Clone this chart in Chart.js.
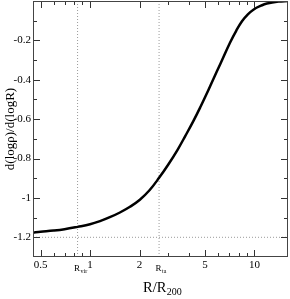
<!DOCTYPE html>
<html>
<head>
<meta charset="utf-8">
<script src="https://cdn.jsdelivr.net/npm/chart.js@4"></script>
<style>
  html, body { margin: 0; padding: 0; background: #fff; }
  #wrap { width: 290px; height: 299px; }
</style>
</head>
<body>
<div id="wrap"><canvas id="chart" width="290" height="299"></canvas></div>
<script>
// radius in units of R200 and the logarithmic density slope
const radius = [0.45, 0.5, 0.6, 0.7, 0.84, 1, 1.15, 1.32, 1.52, 1.75, 2.01, 2.3, 2.63, 3.0, 3.4, 3.8, 4.25, 4.7, 5.13, 5.62, 6.2, 7.1, 7.76, 8.4, 9.12, 9.9, 10.96, 11.9, 14, 16];
const slope = [-1.176, -1.172, -1.166, -1.159, -1.147, -1.134, -1.118, -1.098, -1.074, -1.045, -1.009, -0.961, -0.898, -0.829, -0.757, -0.685, -0.61, -0.537, -0.47, -0.397, -0.32, -0.212, -0.15, -0.103, -0.068, -0.043, -0.024, -0.013, -0.003, 0];

// reference radii (virial and turnaround) and the reference slope
const markerR = [0.84, 2.63];
const markerSub = ['vir', 'ta'];
const refSlope = -1.2;

const xTicks = [0.5, 0.6, 0.7, 0.8, 0.9, 1, 2, 3, 4, 5, 6, 7, 8, 9, 10];
const xLabels = [0.5, 1, 2, 5, 10];
const yTicks = [-1.2, -1.1, -1.0, -0.9, -0.8, -0.7, -0.6, -0.5, -0.4, -0.3, -0.2, -0.1];

const X_MIN = 0.45, X_MAX = 16, Y_MIN = -1.3, Y_MAX = 0;
const FONT = 'Liberation Serif';
const dotted = '#9a9a9a';

const isMajorY = v => Math.abs(Math.round(v * 10)) % 2 === 0;

const datasets = [
  {
    data: radius.map((r, i) => ({ x: r, y: slope[i] })),
    borderColor: '#000',
    borderWidth: 2.5,
    pointRadius: 0,
    tension: 0.4,
    order: 0
  },
  {
    data: [{ x: X_MIN, y: refSlope }, { x: X_MAX, y: refSlope }],
    borderColor: dotted, borderWidth: 1, borderDash: [1, 2], pointRadius: 0, order: 1
  }
];
markerR.forEach(r => datasets.push({
  data: [{ x: r, y: Y_MIN }, { x: r, y: Y_MAX }],
  borderColor: dotted, borderWidth: 1, borderDash: [1, 2], pointRadius: 0, order: 1
}));

const frameTicks = {
  id: 'frameTicks',
  afterDatasetsDraw(chart) {
    const { ctx, chartArea: a, scales: { x, y } } = chart;
    ctx.save();
    ctx.strokeStyle = '#333';
    ctx.lineWidth = 1;
    ctx.beginPath();
    xTicks.forEach(v => {
      const px = Math.round(x.getPixelForValue(v)) + 0.5;
      const len = xLabels.includes(v) ? 7 : 4;
      ctx.moveTo(px, a.bottom); ctx.lineTo(px, a.bottom - len);
      ctx.moveTo(px, a.top); ctx.lineTo(px, a.top + len);
    });
    yTicks.forEach(v => {
      const py = Math.round(y.getPixelForValue(v)) + 0.5;
      const len = isMajorY(v) ? 7 : 4;
      ctx.moveTo(a.left, py); ctx.lineTo(a.left + len, py);
      ctx.moveTo(a.right, py); ctx.lineTo(a.right - len, py);
    });
    ctx.stroke();
    ctx.strokeStyle = '#444';
    ctx.strokeRect(a.left + 0.5, a.top + 0.5, a.right - a.left - 1, a.bottom - a.top - 1);

    // axis titles and marker labels with subscripts
    ctx.fillStyle = '#000';
    ctx.textBaseline = 'alphabetic';
    const sub = (main, s, x0, yb, big, small, drop) => {
      ctx.font = big + 'px "' + FONT + '"';
      ctx.textAlign = 'left';
      ctx.fillText(main, x0, yb);
      const w = ctx.measureText(main).width;
      ctx.font = small + 'px "' + FONT + '"';
      ctx.fillText(s, x0 + w + 0.5, yb + drop);
    };
    markerR.forEach((r, i) => {
      const px = x.getPixelForValue(r);
      sub('R', markerSub[i], px - 3.5, 270.5, 9, 6, 2.5);
    });
    sub('R/R', '200', 143, 291.5, 14.5, 10, 3.5);

    ctx.save();
    ctx.translate(11, (a.top + a.bottom) / 2);
    ctx.rotate(-Math.PI / 2);
    ctx.font = '13px "' + FONT + '"';
    ctx.textAlign = 'center';
    ctx.textBaseline = 'middle';
    ctx.fillText('d(log\u03c1)/d(logR)', 0, 0);
    ctx.restore();
    ctx.restore();
  }
};

new Chart(document.getElementById('chart'), {
  type: 'line',
  data: { datasets },
  options: {
    responsive: false,
    animation: false,
    events: [],
    layout: { padding: { top: 1, right: 2, left: 0, bottom: 0 } },
    plugins: { legend: { display: false }, tooltip: { enabled: false } },
    scales: {
      x: {
        type: 'logarithmic',
        min: X_MIN,
        max: X_MAX,
        afterBuildTicks: s => { s.ticks = xTicks.map(v => ({ value: v })); },
        afterFit: s => { s.height = 42; s.paddingLeft = 0; s.paddingRight = 0; },
        grid: { display: false, drawTicks: false },
        border: { display: false },
        ticks: {
          autoSkip: false,
          maxRotation: 0,
          padding: 2,
          color: '#000',
          font: { family: FONT, size: 11 },
          callback: v => xLabels.includes(v) ? String(v) : ''
        }
      },
      y: {
        min: Y_MIN,
        max: Y_MAX,
        afterBuildTicks: s => { s.ticks = yTicks.map(v => ({ value: v })); },
        afterFit: s => { s.width = 33; s.paddingTop = 0; s.paddingBottom = 0; },
        grid: { display: false, drawTicks: false },
        border: { display: false },
        ticks: {
          autoSkip: false,
          padding: 2,
          color: '#000',
          font: { family: FONT, size: 11 },
          callback: v => isMajorY(v) ? String(Math.round(v * 10) / 10) : ''
        }
      }
    }
  },
  plugins: [frameTicks]
});
</script>
</body>
</html>
